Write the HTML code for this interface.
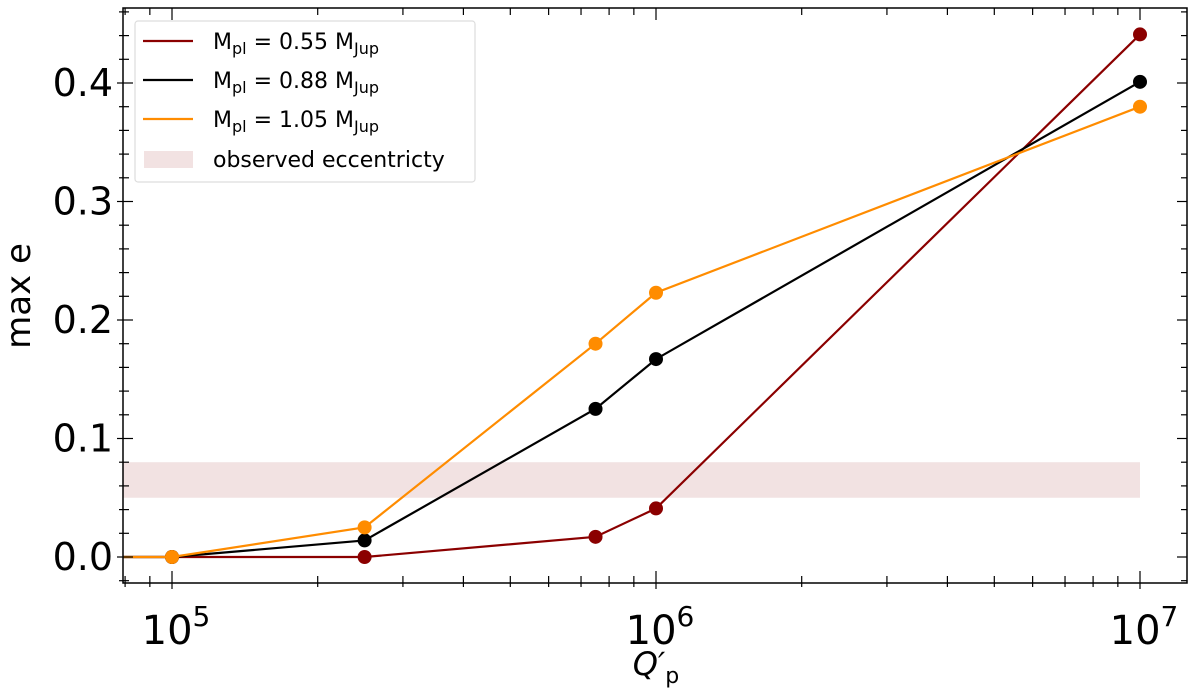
<!DOCTYPE html>
<html><head><meta charset="utf-8"><style>
body{margin:0;background:#fff;}
svg{display:block;font-family:"DejaVu Sans","Liberation Sans",sans-serif;}
</style></head><body>
<svg id="chart" width="1200" height="695"></svg>
<script>
const qValues=[1e4,1e5,2.5e5,7.5e5,1e6,1e7];
const seriesNames=["M_pl = 0.55 M_Jup","M_pl = 0.88 M_Jup","M_pl = 1.05 M_Jup"];
const series055=[0,0,0,0.017,0.041,0.441];
const series088=[0,0,0.014,0.125,0.167,0.401];
const series105=[0,0,0.025,0.180,0.223,0.380];
const yTicks=[0,0.1,0.2,0.3,0.4];
const yTickLabels=["0.0","0.1","0.2","0.3","0.4"];
const xTickExps=[5,6,7];
const bandRange=[0.05,0.08];
const bandXRange=[1e4,1e7];

const L=123,R=1187,T=8,B=583;
const ns="http://www.w3.org/2000/svg";
const svg=document.getElementById('chart');
function X(q){return 172+484*(Math.log10(q)-5);}
function Y(v){return 557-1185*v;}
function el(t,a,p){const e=document.createElementNS(ns,t);for(const k in a)e.setAttribute(k,a[k]);(p||svg).appendChild(e);return e;}
const defs=el('defs',{});const cp=el('clipPath',{id:'c'},defs);el('rect',{x:L,y:T,width:R-L,height:B-T},cp);
const plot=el('g',{'clip-path':'url(#c)'});
const band=el('rect',{x:Math.max(L,X(bandXRange[0])),y:Y(bandRange[1]),width:X(bandXRange[1])-Math.max(L,X(bandXRange[0])),height:Y(bandRange[0])-Y(bandRange[1]),fill:'#f2e2e2'},plot);


const data=[series055,series088,series105],cols=['#8b0000','#000000','#ff8c00'],ids=['series-055','series-088','series-105'];
data.forEach((s,i)=>{
 const g=el('g',{},plot);
 
 
 el('polyline',{points:s.map((v,j)=>X(qValues[j])+','+Y(v)).join(' '),fill:'none',stroke:cols[i],'stroke-width':2.2},g);
 s.forEach((v,j)=>{if(qValues[j]<1e5)return;const c=el('circle',{cx:X(qValues[j]),cy:Y(v),r:7,fill:cols[i]},g);
  
  });
});
el('rect',{x:L,y:T,width:R-L,height:B-T,fill:'none',stroke:'#000','stroke-width':1.5});
for(let k=-1;k<=23;k++){const v=k*0.02;const y=Y(v);if(y<T||y>B)continue;const maj=k%5===0;const len=maj?10:6;
 el('line',{x1:L,x2:L+len,y1:y,y2:y,stroke:'#000','stroke-width':1.2});el('line',{x1:R,x2:R-len,y1:y,y2:y,stroke:'#000','stroke-width':1.2});
 el('line',{x1:L,x2:L-(maj?6:4),y1:y,y2:y,stroke:'#000','stroke-width':1.2});}
yTicks.forEach((v,i)=>{const t=el('text',{x:L-10,y:Y(v)+13,'text-anchor':'end','font-size':38});t.textContent=yTickLabels[i];
 });
for(let e=4;e<=7;e++)for(let m=1;m<10;m++){const q=m*Math.pow(10,e);const x=X(q);if(x<L||x>R)continue;const maj=m===1;const len=maj?12:7;
 el('line',{x1:x,x2:x,y1:B,y2:B-len,stroke:'#000','stroke-width':1.2});el('line',{x1:x,x2:x,y1:T,y2:T+len,stroke:'#000','stroke-width':1.2});
 el('line',{x1:x,x2:x,y1:B,y2:B+(maj?6:4),stroke:'#000','stroke-width':1.2});}
xTickExps.forEach(e=>{const t=el('text',{x:X(Math.pow(10,e))+4,y:644,'text-anchor':'middle','font-size':40});t.appendChild(document.createTextNode('10'));
 const s=el('tspan',{dy:-18,'font-size':28},t);s.textContent=String(e);
 });
const xl=el('text',{x:656,y:675,'text-anchor':'middle','font-size':32,'font-style':'italic'});xl.appendChild(document.createTextNode("Q′"));
el('tspan',{dy:8,'font-size':22,'font-style':'normal'},xl).textContent='p';

const yl=el('text',{x:30,y:296,'text-anchor':'middle','font-size':34,transform:'rotate(-90 30 296)'});yl.textContent='max e';

const lg=el('g',{});
el('rect',{x:135,y:21,width:340,height:161,rx:3,fill:'#fff',stroke:'#ddd','stroke-width':1.2},lg);
const labs=['0.55','0.88','1.05'];
labs.forEach((l,i)=>{const y=41+39*i;const g=el('g',{},lg);
 
 el('line',{x1:143,x2:193,y1:y,y2:y,stroke:cols[i],'stroke-width':2.2},g);
 const t=el('text',{x:213,y:y+8,'font-size':22},g);
 t.appendChild(document.createTextNode('M'));el('tspan',{dy:5,'font-size':16},t).textContent='pl';
 el('tspan',{dy:-5},t).textContent=' = '+l+' M';el('tspan',{dy:5,'font-size':16},t).textContent='Jup';});
const g4=el('g',{},lg);
el('rect',{x:144,y:151,width:49,height:17,fill:'#f2e2e2'},g4);
el('text',{x:213,y:167,'font-size':22},g4).textContent='observed eccentricty';
</script>
</body></html>
